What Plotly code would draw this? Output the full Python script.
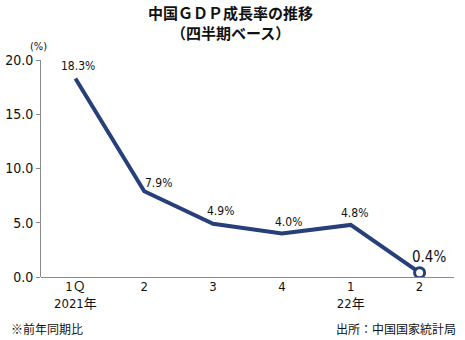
import plotly.graph_objects as go

# Quarterly real GDP growth, year-on-year (%)
quarters = ["1Ｑ<br>2021年", "2", "3", "4", "1<br>22年", "2"]
growth = [18.3, 7.9, 4.9, 4.0, 4.8, 0.4]
y_ticks = [0.0, 5.0, 10.0, 15.0, 20.0]
title_lines = ["中国ＧＤＰ成長率の推移", "（四半期ベース）"]

navy = "#27407a"
axis_grey = "#8a8a8a"
num_font = "Liberation Sans Narrow, DejaVu Sans Condensed, Noto Sans CJK JP"
jp_font = "Noto Sans CJK JP, Noto Sans, sans-serif"

xs = list(range(len(growth)))

fig = go.Figure()
fig.add_trace(go.Scatter(
    x=xs, y=growth, mode="lines",
    line=dict(color=navy, width=4),
    hoverinfo="skip",
))
# latest quarter highlighted with an open marker
fig.add_trace(go.Scatter(
    x=[xs[-1]], y=[growth[-1]], mode="markers",
    marker=dict(size=10, color="white", line=dict(color=navy, width=3)),
    hoverinfo="skip",
))

# value labels: (xshift, yshift, font size)
label_offsets = [(3, 12, 12), (14, 8, 12), (7, 13, 12), (7, 12, 12), (4, 12, 12), (9, 16, 15)]
annotations = []
for x, v, (dx, dy, fs) in zip(xs, growth, label_offsets):
    annotations.append(dict(
        x=x, y=v, text=f"{v:.1f}%", showarrow=False,
        xshift=dx, yshift=dy, font=dict(family=num_font, size=fs, color="#111"),
    ))

# two-line title, each line placed on its own
for line, dy in zip(title_lines, [48, 28]):
    annotations.append(dict(
        text=f"<b>{line}</b>", xref="paper", yref="paper", x=0.46, y=1,
        yshift=dy, yanchor="middle", showarrow=False,
        font=dict(family=jp_font, size=15, color="#111"),
    ))

annotations += [
    dict(text="(%)", xref="paper", yref="paper", x=0, xshift=-3, y=1, yshift=14,
         xanchor="center", yanchor="middle",
         showarrow=False, font=dict(family=num_font, size=11, color="#111")),
    dict(text="※前年同期比", xref="paper", yref="paper", x=0, xshift=-32, y=0,
         yshift=-51, xanchor="left", yanchor="middle", showarrow=False,
         font=dict(family=jp_font, size=12, color="#111")),
    dict(text="出所：中国国家統計局", xref="paper", yref="paper", x=1, xshift=4, y=0,
         yshift=-51, xanchor="right", yanchor="middle", showarrow=False,
         font=dict(family=jp_font, size=12, color="#111")),
]

fig.update_layout(
    width=465, height=340,
    margin=dict(l=41, r=11, t=60, b=63, autoexpand=False),
    paper_bgcolor="white", plot_bgcolor="white",
    showlegend=False,
    annotations=annotations,
    xaxis=dict(
        tickmode="array", tickvals=xs, ticktext=quarters,
        range=[-0.5, len(xs) - 0.5],
        showgrid=False, zeroline=False, automargin=False,
        showline=False, ticks="",
        tickfont=dict(family=num_font, size=13, color="#111"),
    ),
    yaxis=dict(
        range=[0, 20], tickvals=y_ticks, automargin=False,
        ticktext=[f"{t:.1f}" for t in y_ticks],
        showgrid=False, zeroline=True, zerolinecolor=axis_grey, zerolinewidth=1,
        showline=True, linecolor=axis_grey, linewidth=1,
        ticks="outside", ticklen=4, tickcolor=axis_grey,
        tickfont=dict(family=num_font, size=14, color="#111"),
    ),
)

fig.write_html("out.html")
